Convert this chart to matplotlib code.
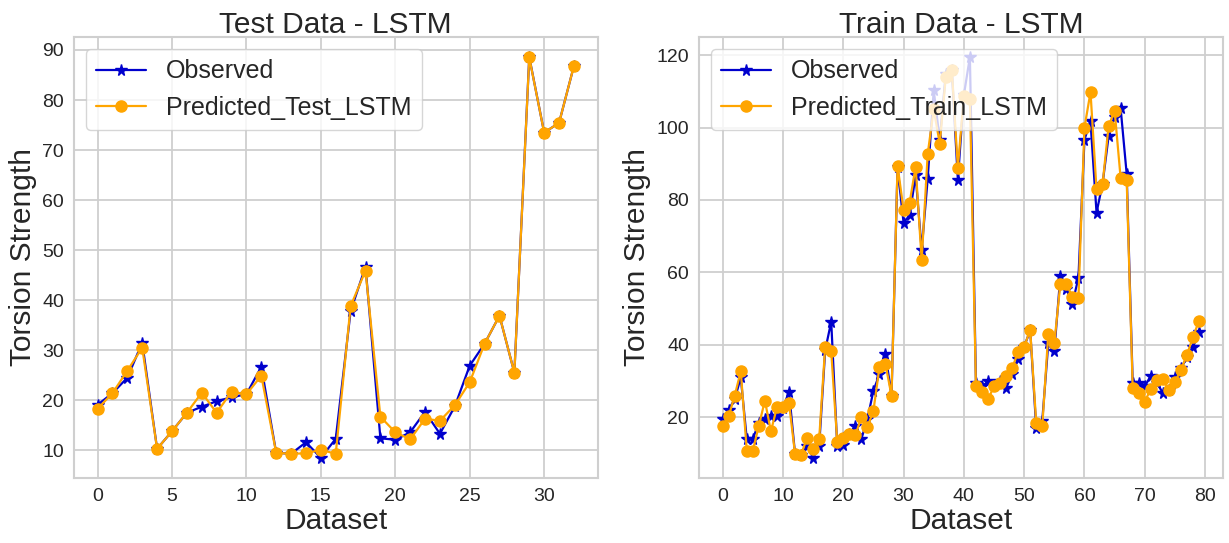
import matplotlib
matplotlib.use("Agg")
import matplotlib.pyplot as plt
import seaborn as sns
import numpy as np

sns.set_style("whitegrid", {"grid.color": "#cfcfcf", "axes.edgecolor": "#cfcfcf"})
plt.rcParams['font.family'] = ['Liberation Sans', 'DejaVu Sans']
plt.rcParams['grid.linewidth'] = 1.3
plt.rcParams['axes.linewidth'] = 1.5

# Test set: observed vs LSTM prediction
obs_test = [19.1, 21.4, 24.5, 31.5, 10.3, 13.8, 17.5, 18.7, 19.8, 20.6, 21.2,
            26.7, 9.5, 9.3, 11.6, 8.5, 12.3, 37.8, 46.7, 12.4, 12.1, 13.6,
            17.7, 13.3, 18.8, 26.9, 31.3, 36.9, 25.5, 88.6, 73.5, 75.4, 86.8]
pred_test = [18.3, 21.4, 25.9, 30.5, 10.3, 13.8, 17.5, 21.5, 17.5, 21.7, 21.2,
             24.9, 9.5, 9.3, 9.4, 10.1, 9.3, 38.8, 45.9, 16.7, 13.6, 12.2,
             16.3, 15.9, 19.0, 23.6, 31.3, 36.9, 25.5, 88.5, 73.5, 75.4, 86.8]

# Train set: observed vs LSTM prediction
obs_train = [19.4, 22.1, 25.0, 31.0, 13.9, 14.0, 18.5, 19.4, 20.3, 20.3,
             22.6, 27.0, 9.9, 9.7, 12.0, 8.8, 12.0, 38.5, 46.4, 12.0,
             12.2, 15.3, 17.7, 14.0, 19.5, 27.3, 31.9, 37.4, 25.9, 89.0,
             73.7, 75.8, 86.8, 66.2, 85.9, 110.3, 96.5, 114.9, 116.0, 85.6,
             109.0, 119.5, 29.5, 28.5, 29.9, 28.8, 30.0, 28.0, 32.0, 36.0,
             39.5, 44.0, 17.0, 19.0, 40.4, 38.3, 59.0, 55.5, 51.4, 58.5,
             96.7, 101.7, 76.5, 84.5, 97.6, 103.0, 105.3, 87.2, 29.4, 29.4,
             28.5, 31.5, 29.5, 26.7, 27.5, 31.0, 33.5, 36.5, 39.4, 43.5]
pred_train = [17.7, 20.3, 26.0, 32.7, 10.8, 10.8, 17.7, 24.6, 16.1, 22.8,
              22.8, 23.9, 9.9, 9.7, 14.3, 11.1, 13.9, 39.5, 38.2, 13.1,
              14.2, 15.3, 15.0, 20.0, 17.2, 21.8, 33.8, 34.7, 25.9, 89.5,
              77.2, 79.2, 89.2, 63.4, 92.7, 105.0, 95.6, 114.0, 116.0, 88.9,
              108.7, 108.0, 28.5, 27.1, 25.0, 28.5, 29.4, 31.3, 33.5, 38.1,
              39.5, 44.1, 18.4, 17.5, 43.1, 40.4, 56.9, 56.9, 53.2, 52.8,
              100.0, 109.8, 82.9, 84.3, 100.4, 104.7, 86.0, 85.6, 28.0, 26.8,
              24.3, 27.8, 30.2, 30.5, 27.5, 29.8, 33.0, 37.3, 42.1, 46.7]

fig, (ax1, ax2) = plt.subplots(1, 2, figsize=(12.29, 5.43), dpi=100)
fig.subplots_adjust(left=0.060, right=0.995, bottom=0.12, top=0.932, wspace=0.193)

panels = [
    (ax1, obs_test, pred_test, "Predicted_Test_LSTM", "Test Data - LSTM"),
    (ax2, obs_train, pred_train, "Predicted_Train_LSTM", "Train Data - LSTM"),
]

for ax, obs, pred, pred_label, title in panels:
    x = np.arange(len(obs))
    ax.plot(x, obs, color='mediumblue', marker='*', markersize=8.5,
            linewidth=1.6, label='Observed')
    ax.plot(x, pred, color='orange', marker='o', markersize=8,
            linewidth=1.6, label=pred_label)
    ax.set_title(title, fontsize=21.5, pad=3)
    ax.set_xlabel("Dataset", fontsize=21.5, labelpad=2)
    ax.set_ylabel("Torsion Strength", fontsize=21.5)
    ax.tick_params(labelsize=14)
    ax.legend(loc='upper left', fontsize=18)

ax1.set_xticks(range(0, 31, 5))
ax1.set_yticks(range(10, 91, 10))
ax2.set_xticks(range(0, 81, 10))
ax2.set_yticks(range(20, 121, 20))

plt.savefig("out.png", dpi=100)
